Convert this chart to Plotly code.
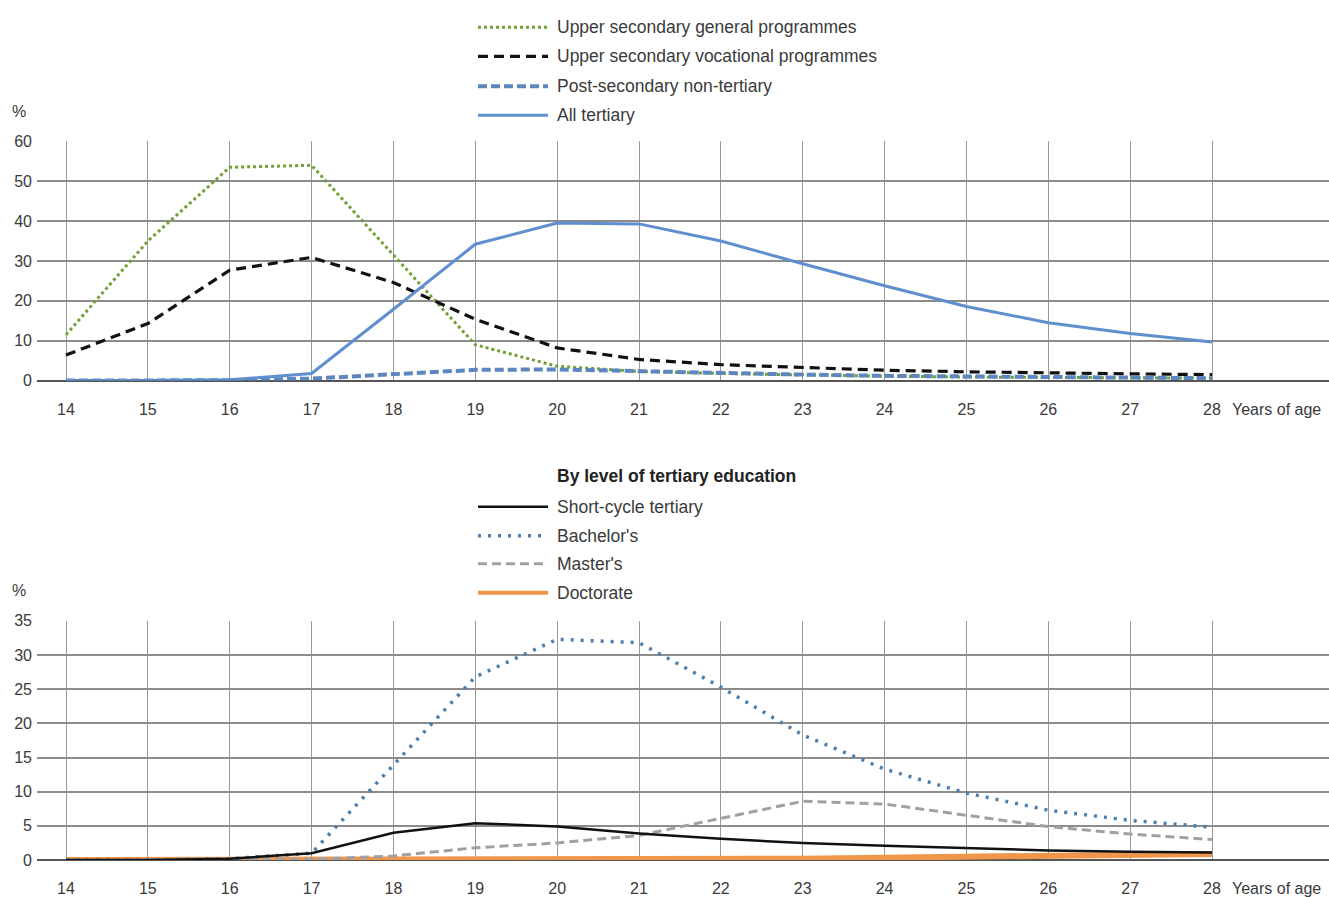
import plotly.graph_objects as go

W, H = 1329, 915
# the captured picture maps page y to screen y as: screen = Y0 + K * page_y
Y0, K = 7.75, 0.9805

ages = [14, 15, 16, 17, 18, 19, 20, 21, 22, 23, 24, 25, 26, 27, 28]

# Panel 1: enrolment by programme (%)
upper_general = [11.5, 35.0, 53.5, 54.0, 31.5, 9.0, 3.6, 2.3, 1.8, 1.4, 1.1, 0.9, 0.8, 0.7, 0.6]
upper_vocational = [6.4, 14.3, 27.7, 30.9, 24.6, 15.4, 8.2, 5.3, 4.0, 3.2, 2.6, 2.2, 1.9, 1.7, 1.5]
post_secondary = [0.0, 0.0, 0.1, 0.5, 1.6, 2.7, 2.8, 2.3, 1.8, 1.5, 1.2, 1.0, 0.8, 0.7, 0.6]
all_tertiary = [0.0, 0.0, 0.2, 1.8, 17.9, 34.2, 39.5, 39.3, 35.0, 29.3, 23.8, 18.6, 14.5, 11.8, 9.7]

# Panel 2: by level of tertiary education (%)
short_cycle = [0.0, 0.0, 0.2, 1.0, 4.0, 5.4, 4.9, 3.9, 3.1, 2.5, 2.1, 1.7, 1.4, 1.2, 1.1]
bachelors = [0.0, 0.0, 0.2, 1.0, 13.9, 26.8, 32.3, 31.8, 25.3, 18.3, 13.3, 9.8, 7.3, 5.8, 4.8]
masters = [0.0, 0.0, 0.0, 0.1, 0.6, 1.8, 2.5, 3.6, 6.1, 8.6, 8.2, 6.5, 4.9, 3.8, 3.0]
doctorate = [0.0, 0.0, 0.0, 0.0, 0.0, 0.0, 0.0, 0.0, 0.05, 0.2, 0.35, 0.5, 0.7, 0.8, 0.9]

top_names = ["Upper secondary general programmes", "Upper secondary vocational programmes",
             "Post-secondary non-tertiary", "All tertiary"]
bottom_names = ["Short-cycle tertiary", "Bachelor's", "Master's", "Doctorate"]
bottom_title = "By level of tertiary education"
x_title = "Years of age"
y_unit = "%"

FONT = "Liberation Sans, Arial, sans-serif"
TXT = "#3a3a3a"

GREEN = "#72a034"
BLACK = "#111111"
POSTBLUE = "#5b86c0"
TERTBLUE = "#5f8fcf"
BACHBLUE = "#4d7fae"
GREY = "#a0a0a0"
ORANGE = "#f0964a"

top_styles = [
    dict(color=GREEN, width=3, dash="3px,3px"),
    dict(color=BLACK, width=3.2, dash="10px,6px"),
    dict(color=POSTBLUE, width=4, dash="9px,4px"),
    dict(color=TERTBLUE, width=3, dash="solid"),
]
bottom_styles = [
    dict(color=BLACK, width=2.5, dash="solid"),
    dict(color=BACHBLUE, width=3.5, dash="3px,7px"),
    dict(color=GREY, width=3, dash="9px,5px"),
    dict(color=ORANGE, width=6, dash="solid"),
]

fig = go.Figure()
for name, ys, st in zip(top_names, [upper_general, upper_vocational, post_secondary, all_tertiary], top_styles):
    fig.add_trace(go.Scatter(x=ages, y=ys, mode="lines", name=name, line=st,
                             xaxis="x", yaxis="y", showlegend=False))
# doctorate drawn first so the other series sit on top of it
bottom_series = [short_cycle, bachelors, masters, doctorate]
for i in [3, 2, 1, 0]:
    fig.add_trace(go.Scatter(x=ages, y=bottom_series[i], mode="lines", name=bottom_names[i],
                             line=bottom_styles[i], xaxis="x2", yaxis="y2", showlegend=False))


def px_x(px):
    return px / W


def px_y(py):
    return 1 - ((py - Y0) / K) / H


PX_PER_YEAR = (1212 - 66) / 14.0
x0 = px_x(37)
xrng = [14 - (66 - 37) / PX_PER_YEAR, 28 + (W - 1212) / PX_PER_YEAR]

axis_x = dict(range=xrng, tickvals=ages, ticktext=[str(a) for a in ages],
              showgrid=True, gridcolor="#9a9a9a", gridwidth=1, zeroline=False,
              showline=False, ticks="", ticklabelstandoff=17,
              tickfont=dict(family=FONT, size=16, color=TXT), fixedrange=True)
axis_y = dict(showgrid=True, gridcolor="#8c8c8c", gridwidth=2, zeroline=True,
              zerolinecolor="#555555", zerolinewidth=2, showline=False, ticks="",
              ticklabelstandoff=4,
              tickfont=dict(family=FONT, size=16, color=TXT), fixedrange=True)

fig.update_layout(
    width=W, height=H,
    margin=dict(l=0, r=0, t=0, b=0),
    paper_bgcolor="white", plot_bgcolor="white",
    font=dict(family=FONT, color=TXT),
    xaxis=dict(axis_x, domain=[x0, 1], anchor="y"),
    yaxis=dict(axis_y, domain=[px_y(380), px_y(141)], range=[0, 60],
               tickvals=[0, 10, 20, 30, 40, 50, 60], anchor="x"),
    xaxis2=dict(axis_x, domain=[x0, 1], anchor="y2"),
    yaxis2=dict(axis_y, domain=[px_y(859), px_y(620)], range=[0, 35],
                tickvals=[0, 5, 10, 15, 20, 25, 30, 35], anchor="x2"),
)

shapes = []
annotations = []


def legend_row(py, name, st):
    shapes.append(dict(type="line", xref="paper", yref="paper",
                       x0=px_x(478), x1=px_x(548), y0=px_y(py), y1=px_y(py),
                       line=dict(color=st["color"], width=min(st["width"], 4), dash=st["dash"])))
    annotations.append(dict(xref="paper", yref="paper", x=px_x(555), y=px_y(py),
                            text=name, showarrow=False, xanchor="left", yanchor="middle",
                            font=dict(family=FONT, size=17.5, color=TXT)))


for py, name, st in zip([27, 56, 86, 115], top_names, top_styles):
    legend_row(py, name, st)
annotations.append(dict(xref="paper", yref="paper", x=px_x(555), y=px_y(475),
                        text="<b>" + bottom_title + "</b>", showarrow=False,
                        xanchor="left", yanchor="middle",
                        font=dict(family=FONT, size=17.5, color="#222222")))
for py, name, st in zip([506, 535, 563, 592], bottom_names, bottom_styles):
    legend_row(py, name, st)

for py in [111, 590]:
    annotations.append(dict(xref="paper", yref="paper", x=px_x(10), y=px_y(py),
                            text=y_unit, showarrow=False, xanchor="left", yanchor="middle",
                            font=dict(family=FONT, size=16, color=TXT)))
for py in [409, 887]:
    annotations.append(dict(xref="paper", yref="paper", x=px_x(1230), y=px_y(py),
                            text=x_title, showarrow=False, xanchor="left", yanchor="middle",
                            font=dict(family=FONT, size=16, color=TXT)))

fig.update_layout(shapes=shapes, annotations=annotations)
fig.write_html(
    "out.html",
    config={"displayModeBar": False, "staticPlot": True},
    post_script=(
        "document.documentElement.style.margin='0';"
        "document.body.style.margin='0';"
        "document.body.style.overflow='hidden';"
        "var g=document.getElementById('{plot_id}');"
        "g.style.position='fixed';g.style.left='0px';g.style.top='0px';"
    ),
)
